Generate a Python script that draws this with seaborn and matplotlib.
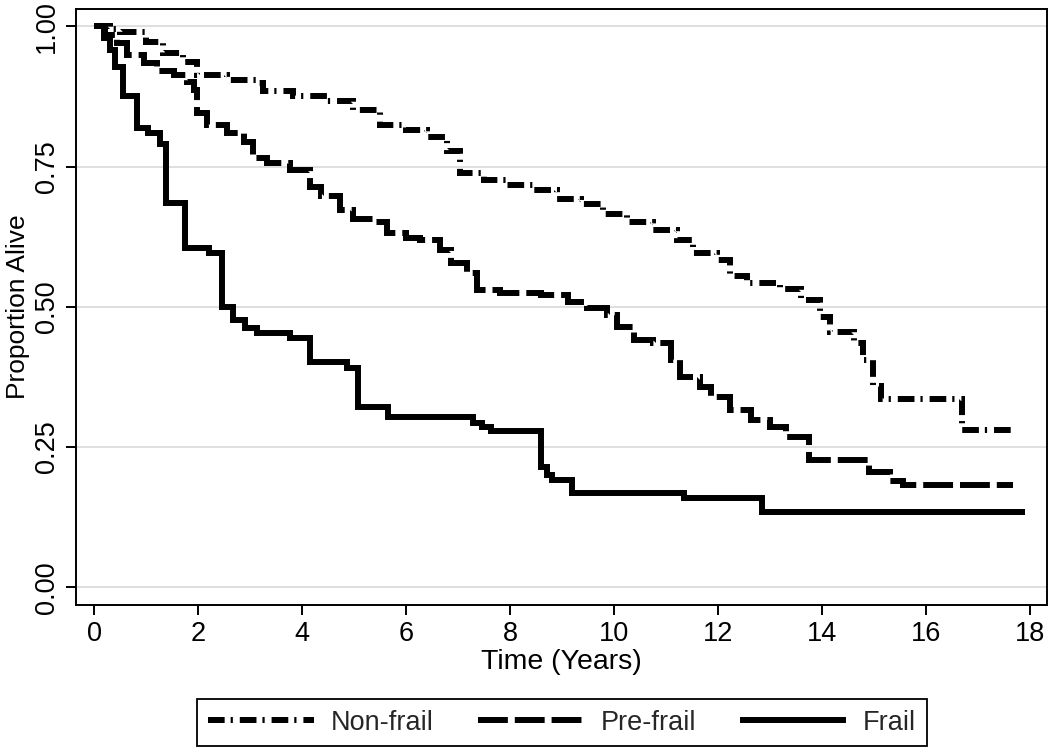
import pandas as pd
import seaborn as sns
import matplotlib.pyplot as plt

# Kaplan-Meier survival estimates
nonfrail_time = [0, 0.3, 0.5, 1.0, 1.33, 1.71, 1.98, 2.55, 3.13, 3.25, 3.83, 4.48, 4.98,
                 5.5, 6.0, 6.4, 6.78, 7.04, 7.49, 7.94, 8.45, 8.9, 9.35, 9.79, 10.25,
                 10.75, 11.21, 11.52, 11.97, 12.23, 12.55, 13.19, 13.58, 13.96, 14.15,
                 14.6, 14.79, 14.98, 15.12, 16.69, 17.67]
nonfrail_surv = [1.0, 0.995, 0.99, 0.972, 0.952, 0.937, 0.913, 0.905, 0.899, 0.884, 0.875,
                 0.866, 0.851, 0.824, 0.815, 0.803, 0.777, 0.738, 0.726, 0.717, 0.708,
                 0.693, 0.684, 0.666, 0.651, 0.637, 0.619, 0.595, 0.583, 0.554, 0.542,
                 0.531, 0.512, 0.482, 0.455, 0.435, 0.405, 0.358, 0.335, 0.28, 0.28]

prefrail_time = [0, 0.2, 0.44, 0.63, 0.95, 1.2, 1.53, 1.78, 1.91, 1.98, 2.17, 2.55, 2.87,
                 3.06, 3.33, 3.77, 4.15, 4.35, 4.73, 4.98, 5.37, 5.63, 6.0, 6.27, 6.65,
                 6.85, 7.17, 7.36, 7.8, 8.58, 9.1, 9.48, 9.86, 10.05, 10.37, 10.75, 11.08,
                 11.27, 11.65, 11.85, 12.23, 12.62, 13.0, 13.3, 13.75, 14.9, 15.3, 15.56,
                 17.67]
prefrail_surv = [1.0, 0.985, 0.97, 0.949, 0.934, 0.92, 0.913, 0.901, 0.886, 0.845, 0.824,
                 0.81, 0.794, 0.765, 0.756, 0.744, 0.714, 0.697, 0.673, 0.657, 0.651,
                 0.631, 0.622, 0.619, 0.601, 0.578, 0.56, 0.53, 0.525, 0.521, 0.509,
                 0.497, 0.486, 0.464, 0.441, 0.435, 0.405, 0.375, 0.357, 0.339, 0.316,
                 0.298, 0.286, 0.268, 0.227, 0.205, 0.19, 0.182, 0.182]

frail_time = [0, 0.18, 0.3, 0.4, 0.56, 0.82, 1.04, 1.27, 1.37, 1.75, 2.2, 2.46, 2.67, 2.9,
              3.13, 3.77, 4.15, 4.86, 5.08, 5.65, 7.29, 7.45, 7.62, 8.58, 8.7, 8.8, 9.19,
              11.33, 12.84, 17.9]
frail_surv = [1.0, 0.98, 0.958, 0.928, 0.875, 0.818, 0.81, 0.79, 0.685, 0.604, 0.595, 0.5,
              0.476, 0.462, 0.453, 0.444, 0.402, 0.391, 0.321, 0.303, 0.293, 0.285, 0.279,
              0.215, 0.2, 0.191, 0.168, 0.159, 0.135, 0.135]

groups = ['Non-frail', 'Pre-frail', 'Frail']
x_ticks = [0, 2, 4, 6, 8, 10, 12, 14, 16, 18]
y_ticks = [0.00, 0.25, 0.50, 0.75, 1.00]
y_ticklabels = ['0.00', '0.25', '0.50', '0.75', '1.00']

df = pd.concat([
    pd.DataFrame({'time': nonfrail_time, 'surv': nonfrail_surv, 'group': 'Non-frail'}),
    pd.DataFrame({'time': prefrail_time, 'surv': prefrail_surv, 'group': 'Pre-frail'}),
    pd.DataFrame({'time': frail_time, 'surv': frail_surv, 'group': 'Frail'}),
])

sns.set_style('ticks')
plt.rcParams['font.family'] = ['Liberation Sans', 'DejaVu Sans']
plt.rcParams['lines.scale_dashes'] = False
plt.rcParams['lines.solid_joinstyle'] = 'miter'
plt.rcParams['lines.dash_joinstyle'] = 'miter'
plt.rcParams['lines.solid_capstyle'] = 'butt'

# stata-like line patterns (points)
styles = {
    'Non-frail': (0, (12, 4.3, 1.6, 5)),
    'Pre-frail': (0, (21.5, 5)),
    'Frail': '-',
}

fig = plt.figure(figsize=(10.5, 7.51), dpi=100)
ax = fig.add_axes([0.0724, 0.1944, 0.9245, 0.7936])

for g in groups:
    sns.lineplot(data=df[df['group'] == g], x='time', y='surv', ax=ax,
                 color='black', linewidth=4.3, linestyle=styles[g],
                 drawstyle='steps-post', estimator=None, sort=False,
                 legend=False)

ax.set_xlim(-0.352, 18.315)
ax.set_ylim(-0.0316, 1.0308)
ax.set_xticks(x_ticks)
ax.set_yticks(y_ticks)
ax.set_yticklabels(y_ticklabels)

ax.yaxis.grid(True, color='#dcdcdc', linewidth=1.3)
ax.xaxis.grid(False)
for s in ax.spines.values():
    s.set_color('black')
    s.set_linewidth(1.4)

ax.tick_params(axis='both', direction='out', length=7.2, width=1.4, color='black',
               labelsize=19.5, labelcolor='black')
ax.tick_params(axis='x', pad=4.5)
ax.tick_params(axis='y', pad=4.5, labelrotation=90)
for lab in ax.get_yticklabels():
    lab.set_va('center')

ax.set_xlabel('Time (Years)', fontsize=20.5, color='black')
ax.set_ylabel('Proportion Alive', fontsize=19, color='black')
ax.xaxis.set_label_coords(0.5, -0.073)
ax.yaxis.set_label_coords(-0.0475, 0.5)

handles = ax.get_lines()[:3]
leg = fig.legend(handles, groups, loc='center', bbox_to_anchor=(562 / 1050, 1 - 722.5 / 751),
                 ncol=3, frameon=True, fancybox=False, framealpha=1, edgecolor='black',
                 fontsize=19.5, handlelength=3.9, handletextpad=0.63, columnspacing=1.63,
                 borderpad=0.4)
leg.get_frame().set_linewidth(1.3)

fig.savefig('out.png', dpi=100)
